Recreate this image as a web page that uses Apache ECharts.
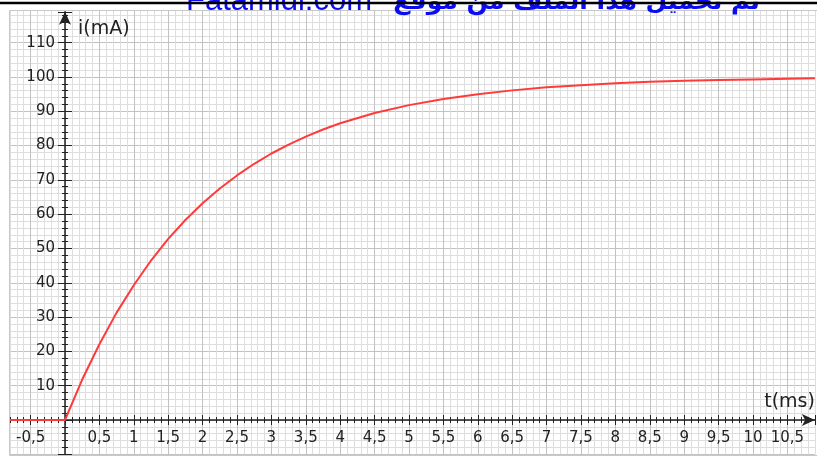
<!DOCTYPE html>
<html>
<head>
<meta charset="utf-8">
<script src="https://cdn.jsdelivr.net/npm/echarts@6/dist/echarts.min.js"></script>
<style>html,body{margin:0;padding:0;background:#fff;}#c{width:817px;height:462px;}</style>
</head>
<body>
<div id="c"></div>
<script>
// time (ms) and current (mA)
const tValues = [-0.8, 0, 0.25, 0.5, 0.75, 1, 1.25, 1.5, 1.75, 2, 2.25, 2.5, 2.75, 3, 3.25, 3.5, 3.75, 4, 4.5, 5, 5.5, 6, 6.5, 7, 7.5, 8, 8.5, 9, 9.5, 10, 10.5, 10.9];
const iValues = [0, 0, 11.8, 22.1, 31.3, 39.3, 46.5, 52.8, 58.3, 63.2, 67.5, 71.3, 74.7, 77.7, 80.3, 82.6, 84.7, 86.5, 89.5, 91.8, 93.6, 95.0, 96.1, 97.0, 97.6, 98.2, 98.6, 98.9, 99.1, 99.3, 99.5, 99.6];
// tick labels shown
const xLabelValues = [-0.5, 0.5, 1, 1.5, 2, 2.5, 3, 3.5, 4, 4.5, 5, 5.5, 6, 6.5, 7, 7.5, 8, 8.5, 9, 9.5, 10, 10.5];
const yLabelValues = [10, 20, 30, 40, 50, 60, 70, 80, 90, 100, 110];
const xName = 't(ms)';
const yName = 'i(mA)';
const watermarkLatin = 'Fatamidi.com';
const watermarkArabic = 'تم تحميل هذا الملف من موقع';

const FONT = 'DejaVu Sans';
const AX = '#222';
const MINOR = '#dedede', MAJOR = '#c2c2c2';
const has = (arr, v) => arr.some(a => Math.abs(a - v) < 1e-6);

const chart = echarts.init(document.getElementById('c'), null, {renderer: 'canvas'});
const hidden = {show: false};
const noAxis = {axisLine: hidden, axisTick: hidden, axisLabel: hidden, splitLine: hidden};

// grid 0: paper grid + curve (t -0.8..10.9, i -10..120)
// grid 1: x axis labels / 0.5 ticks (t -0.5..10.9), bottom edge at i = 0
// grid 2: x axis line, arrow, 0.1 ticks (t -0.8..10.9), bottom edge at i = 0
// grid 3: y axis (left edge at t = 0)
const xAxes = [
  { // 0: paper grid, lines every 0.1 ms, darker every 0.5 ms (first line at -0.8)
    gridIndex: 0, type: 'value', min: -0.8, max: 10.9, interval: 0.1,
    axisLine: hidden, axisTick: hidden, axisLabel: hidden,
    splitLine: {show: true, lineStyle: {color: [MINOR, MINOR, MINOR, MAJOR, MINOR], width: 1}}
  },
  { // 1: 0.5 ticks outside + labels
    gridIndex: 1, type: 'value', min: -0.5, max: 10.9, interval: 0.5, position: 'bottom',
    axisLine: {show: false, onZero: false},
    axisTick: {show: true, inside: false, length: 5, lineStyle: {color: AX, width: 1}},
    axisLabel: {
      show: true, margin: 11, fontFamily: FONT, fontSize: 15, color: AX,
      formatter: v => has(xLabelValues, v) ? String(v).replace('.', ',') : ''
    },
    splitLine: hidden
  },
  { // 2: 0.5 ticks inside
    gridIndex: 1, type: 'value', min: -0.5, max: 10.9, interval: 0.5, position: 'bottom',
    axisLine: {show: false, onZero: false},
    axisTick: {show: true, inside: true, length: 5, lineStyle: {color: AX, width: 1}},
    axisLabel: hidden, splitLine: hidden
  },
  { // 3: axis line with arrow + fine ticks outside + name
    gridIndex: 2, type: 'value', min: -0.8, max: 10.9, interval: 0.1, position: 'bottom',
    name: xName, nameLocation: 'end', nameGap: 0,
    nameTextStyle: {fontFamily: FONT, fontSize: 19, color: AX, align: 'right', verticalAlign: 'bottom', padding: [0, 0, 8, 0]},
    axisLine: {show: true, onZero: false, symbol: ['none', 'arrow'], symbolSize: [9, 13], lineStyle: {color: AX, width: 1.5}},
    axisTick: {show: true, inside: false, length: 3, lineStyle: {color: AX, width: 1}},
    axisLabel: hidden, splitLine: hidden
  },
  { // 4: fine ticks inside
    gridIndex: 2, type: 'value', min: -0.8, max: 10.9, interval: 0.1, position: 'bottom',
    axisLine: {show: false, onZero: false},
    axisTick: {show: true, inside: true, length: 3, lineStyle: {color: AX, width: 1}},
    axisLabel: hidden, splitLine: hidden
  },
  Object.assign({gridIndex: 3, type: 'value', min: 0, max: 10.9}, noAxis) // 5
];

const yAxes = [
  { // 0: paper grid, lines every 2 mA, darker every 10 mA
    gridIndex: 0, type: 'value', min: -10, max: 120, interval: 10,
    axisLine: hidden, axisTick: hidden, axisLabel: hidden,
    splitLine: {show: true, lineStyle: {color: MAJOR, width: 1}},
    minorTick: {show: false, splitNumber: 5},
    minorSplitLine: {show: true, lineStyle: {color: MINOR, width: 1}}
  },
  Object.assign({gridIndex: 1, type: 'value', min: 0, max: 119}, noAxis), // 1
  Object.assign({gridIndex: 2, type: 'value', min: 0, max: 119}, noAxis), // 2
  { // 3: y axis: arrow, ticks outside, labels, name
    gridIndex: 3, type: 'value', min: -10, max: 119, interval: 10, position: 'left',
    name: yName, nameLocation: 'end', nameGap: -17,
    nameTextStyle: {fontFamily: FONT, fontSize: 19, color: AX, align: 'left', verticalAlign: 'middle', padding: [0, 0, 0, 13]},
    axisLine: {show: true, onZero: false, symbol: ['none', 'arrow'], symbolSize: [9, 13], lineStyle: {color: AX, width: 1.5}},
    axisTick: {show: true, inside: false, length: 7, lineStyle: {color: AX, width: 1}},
    minorTick: {show: true, splitNumber: 5, length: 3, lineStyle: {color: AX, width: 1}},
    axisLabel: {
      show: true, margin: 10, fontFamily: FONT, fontSize: 15, color: AX,
      formatter: v => has(yLabelValues, v) ? String(v) : ''
    },
    splitLine: hidden
  },
  { // 4: y ticks inside
    gridIndex: 3, type: 'value', min: -10, max: 119, interval: 10, position: 'left',
    axisLine: {show: false, onZero: false},
    axisTick: {show: true, inside: true, length: 7, lineStyle: {color: AX, width: 1}},
    minorTick: {show: true, splitNumber: 5, length: 3, lineStyle: {color: AX, width: 1}},
    axisLabel: hidden, splitLine: hidden
  }
];

const ob = {left: -60, top: -60, right: -60, bottom: -60};
const option = {
  animation: false,
  backgroundColor: '#fff',
  grid: [
    {left: 9.96, right: 2.1, top: 8.4, bottom: 7.7, outerBounds: ob},
    {left: 30.6, right: 2.1, top: 11.8, bottom: 42, outerBounds: ob},
    {left: 9.96, right: 2.1, top: 11.8, bottom: 42, outerBounds: ob},
    {left: 65, right: 2.1, top: 11.8, bottom: 7.7, outerBounds: ob}
  ],
  xAxis: xAxes,
  yAxis: yAxes,
  series: [{
    type: 'line', xAxisIndex: 0, yAxisIndex: 0,
    data: tValues.map((t, k) => [t, iValues[k]]),
    showSymbol: false, smooth: false, z: 3,
    lineStyle: {color: '#ff3a3a', width: 2}
  }],
  graphic: [
    {type: 'rect', z: 100, shape: {x: 0, y: 0, width: 817, height: 10}, style: {fill: '#fff'}},
    {type: 'polyline', z: 101, shape: {points: [[817, 10.5], [9.5, 10.5], [9.5, 455.5], [817, 455.5]]}, style: {stroke: '#c8c8c8', lineWidth: 1, fill: null}},
    {type: 'text', z: 102, x: 186, y: 17, style: {text: watermarkLatin, fontFamily: 'Liberation Sans', fontSize: 31, fill: '#0c0cf0', textVerticalAlign: 'bottom', textAlign: 'left'}},
    {type: 'text', z: 102, x: 760, y: 15, style: {text: watermarkArabic, fontFamily: FONT, fontWeight: 'bold', fontSize: 25, fill: '#0c0cf0', textVerticalAlign: 'bottom', textAlign: 'right'}},
    {type: 'line', z: 103, shape: {x1: 0, y1: 3, x2: 817, y2: 3}, style: {stroke: '#000', lineWidth: 2.5}}
  ]
};
chart.setOption(option);
</script>
</body>
</html>
